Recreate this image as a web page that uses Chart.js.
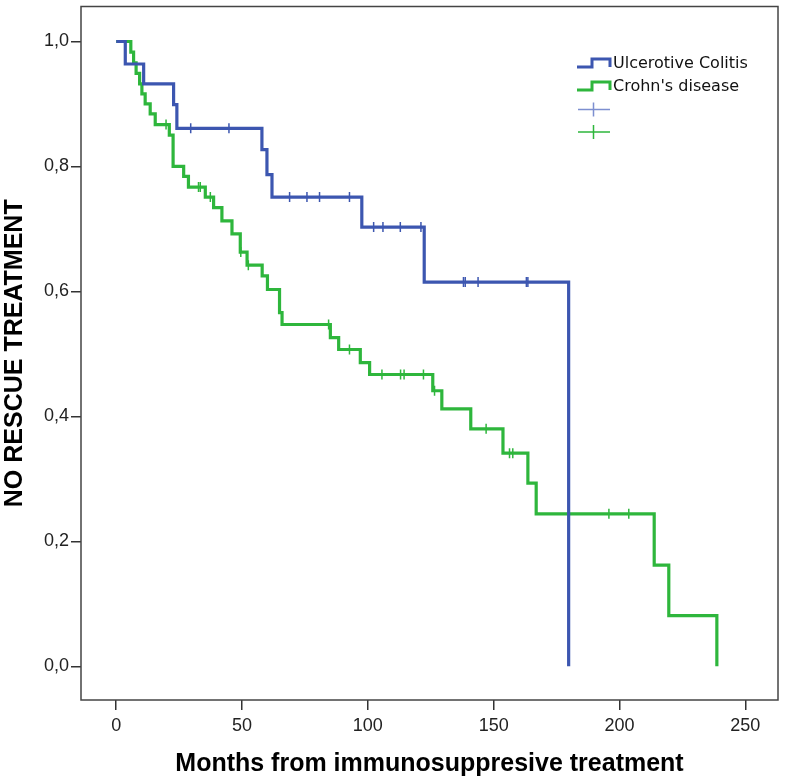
<!DOCTYPE html>
<html><head><meta charset="utf-8">
<script src="https://cdn.jsdelivr.net/npm/chart.js@4.4.1/dist/chart.umd.min.js"></script>
<style>html,body{margin:0;padding:0;background:#fff;} canvas{display:block}</style>
</head><body>
<canvas id="c" width="785" height="782"></canvas>
<script>
const ucLabel = 'Ulcerotive Colitis';
const cdLabel = "Crohn's disease";
const xTitle = 'Months from immunosuppresive treatment';
const yTitle = 'NO RESCUE TREATMENT';

const ucTimes = [0, 3.6, 10.9, 22.8, 24.1, 57.9, 59.9, 61.9, 97.6, 122.4, 179.8];
const ucSurv  = [1.0, 0.964, 0.932, 0.899, 0.861, 0.827, 0.787, 0.751, 0.703, 0.615, 0.0];
const ucCensored = [29.6, 44.8, 68.9, 75.8, 80.8, 92.7, 102.3, 106.0, 112.9, 121.1, 138.0, 138.7, 143.8, 163.0, 163.6];

const cdTimes = [0, 5.8, 6.9, 7.9, 9.3, 10.2, 11.5, 13.5, 15.5, 21.1, 22.6, 26.8, 28.7, 35.4, 38.7, 42.0, 46.0, 49.3, 52.0, 58.0, 60.1, 64.9, 65.9, 85.1, 88.4, 97.0, 100.7, 125.8, 129.4, 140.9, 153.7, 163.6, 166.9, 213.8, 219.6, 238.7];
const cdSurv  = [1.0, 0.983, 0.966, 0.949, 0.932, 0.916, 0.900, 0.884, 0.867, 0.850, 0.800, 0.784, 0.767, 0.751, 0.734, 0.713, 0.692, 0.663, 0.642, 0.625, 0.603, 0.566, 0.547, 0.526, 0.507, 0.486, 0.467, 0.441, 0.412, 0.380, 0.341, 0.293, 0.244, 0.162, 0.081, 0.0];
const cdCensored = [19.8, 32.7, 33.4, 37.4, 49.5, 52.5, 84.4, 92.7, 105.6, 113.0, 114.4, 122.1, 126.5, 147.0, 156.3, 157.6, 195.8, 203.7];

const xTicks = [0, 50, 100, 150, 200, 250];
const yTicks = [0, 0.2, 0.4, 0.6, 0.8, 1.0];

const ucColor = '#3c56b0';
const cdColor = '#2eb63c';

function survAt(times, surv, t) {
  let s = surv[0];
  for (let i = 0; i < times.length; i++) { if (times[i] <= t) s = surv[i]; }
  return s;
}
const toPts = (xs, ys) => xs.map((x, i) => ({x: x, y: ys[i]}));
const censorPts = (cs, times, surv) => cs.map(t => ({x: t, y: survAt(times, surv, t)}));

const framePlugin = {
  id: 'frame',
  afterDraw(chart) {
    const {ctx, chartArea: a} = chart;
    ctx.save();
    ctx.strokeStyle = '#444';
    ctx.lineWidth = 1.5;
    ctx.strokeRect(a.left, a.top, a.right - a.left, a.bottom - a.top);
    ctx.restore();
  }
};

const legendPlugin = {
  id: 'kmLegend',
  afterDraw(chart) {
    const ctx = chart.ctx;
    ctx.save();
    const x0 = 577, x1 = 610;
    const rows = [{c: ucColor, t: ucLabel, y: 67}, {c: cdColor, t: cdLabel, y: 90}];
    ctx.lineWidth = 3;
    ctx.lineJoin = 'miter';
    rows.forEach(r => {
      ctx.strokeStyle = r.c;
      ctx.beginPath();
      ctx.moveTo(x0, r.y);
      ctx.lineTo(592, r.y);
      ctx.lineTo(592, r.y - 8);
      ctx.lineTo(x1, r.y - 8);
      ctx.lineTo(x1, r.y);
      ctx.stroke();
      ctx.fillStyle = '#111';
      ctx.font = '16px "DejaVu Sans"';
      ctx.textBaseline = 'middle';
      ctx.textAlign = 'left';
      ctx.fillText(r.t, 613, r.y - 3);
    });
    const plus = [{c: '#7d8fd0', y: 109.5}, {c: cdColor, y: 132}];
    ctx.lineWidth = 1.5;
    plus.forEach(p => {
      ctx.strokeStyle = p.c;
      ctx.beginPath();
      ctx.moveTo(578, p.y); ctx.lineTo(610, p.y);
      ctx.moveTo(593.5, p.y - 7); ctx.lineTo(593.5, p.y + 7);
      ctx.stroke();
    });
    ctx.restore();
  }
};

const tickFont = {family: '"Liberation Sans", Arial, sans-serif', size: 18};
const titleFont = {family: '"Liberation Sans", Arial, sans-serif', size: 25, weight: 'bold'};

new Chart(document.getElementById('c'), {
  type: 'line',
  data: {
    datasets: [
      {label: ucLabel, data: toPts(ucTimes, ucSurv), borderColor: ucColor, borderWidth: 3.2, stepped: 'before', pointRadius: 0, fill: false},
      {label: cdLabel, data: toPts(cdTimes, cdSurv), borderColor: cdColor, borderWidth: 3.2, stepped: 'before', pointRadius: 0, fill: false},
      {type: 'scatter', label: ucLabel + ' censored', data: censorPts(ucCensored, ucTimes, ucSurv), pointStyle: 'line', rotation: 90, pointRadius: 5, borderColor: ucColor, backgroundColor: ucColor, pointBorderWidth: 1.5, showLine: false},
      {type: 'scatter', label: cdLabel + ' censored', data: censorPts(cdCensored, cdTimes, cdSurv), pointStyle: 'line', rotation: 90, pointRadius: 5, borderColor: cdColor, backgroundColor: cdColor, pointBorderWidth: 1.5, showLine: false}
    ]
  },
  options: {
    responsive: false,
    animation: false,
    devicePixelRatio: 1,
    layout: {padding: {top: 5, right: 7, left: 0, bottom: 0}},
    plugins: {legend: {display: false}, tooltip: {enabled: false}},
    scales: {
      x: {
        type: 'linear', min: -14, max: 263,
        afterBuildTicks: s => { s.ticks = xTicks.map(v => ({value: v})); },
        afterFit: s => { s.height = 82; s.paddingLeft = 0; s.paddingRight = 0; },
        ticks: {font: tickFont, color: '#222', padding: 5, maxRotation: 0, callback: v => String(v)},
        grid: {drawOnChartArea: false, drawTicks: true, tickLength: 10, color: '#333', lineWidth: 1.5},
        border: {display: false},
        title: {display: true, text: xTitle, font: titleFont, color: '#000', padding: {top: 0, bottom: 3}}
      },
      y: {
        type: 'linear', min: -0.054, max: 1.056,
        afterBuildTicks: s => { s.ticks = yTicks.map(v => ({value: v})); },
        afterFit: s => { s.width = 81; s.paddingTop = 0; s.paddingBottom = 0; },
        ticks: {font: tickFont, color: '#222', padding: 2, callback: v => v.toFixed(1).replace('.', ',')},
        grid: {drawOnChartArea: false, drawTicks: true, tickLength: 10, color: '#333', lineWidth: 1.5},
        border: {display: false},
        title: {display: true, text: yTitle, font: titleFont, color: '#000', padding: {top: 0, bottom: 0}}
      }
    }
  },
  plugins: [framePlugin, legendPlugin]
});
</script>
</body></html>
